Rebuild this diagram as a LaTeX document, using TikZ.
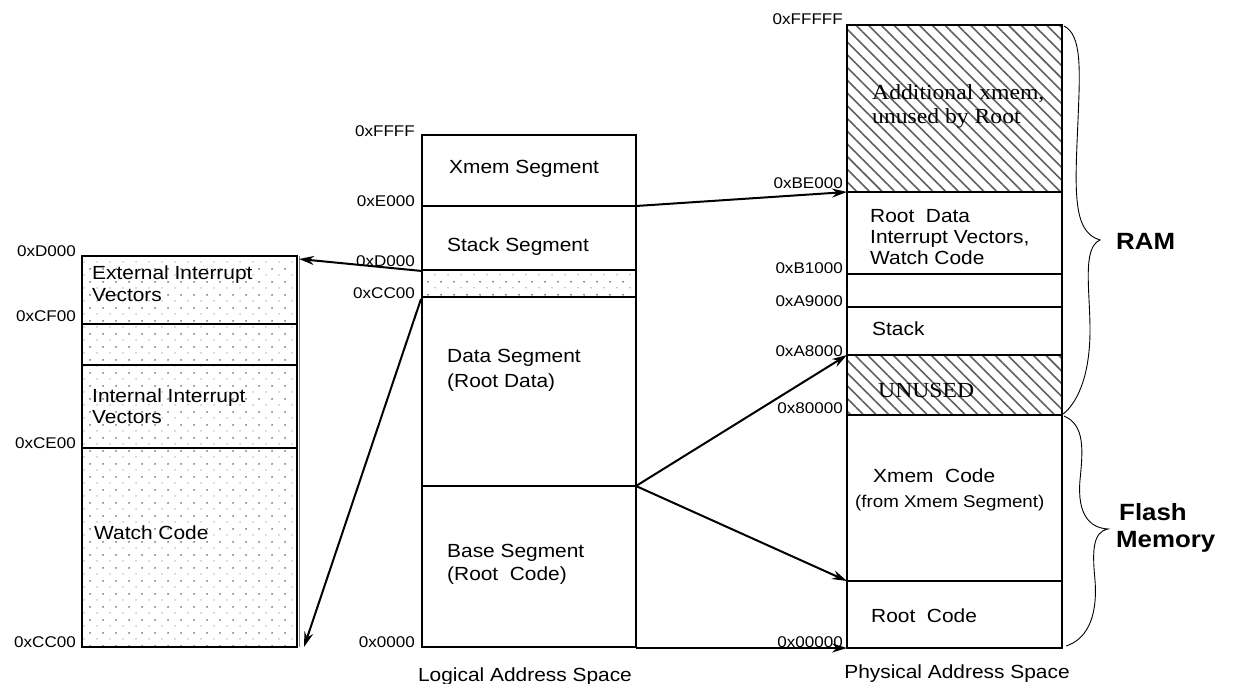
\documentclass[tikz,border=0pt]{standalone}
\usepackage{fontspec}
\setmainfont{Liberation Sans}[FakeStretch=1.1]
\newfontfamily\timesface{Liberation Serif}[FakeStretch=1.1]
\usetikzlibrary{arrows.meta,patterns.meta}

\begin{document}
\begin{tikzpicture}[x=1pt, y=-1pt,
  box/.style={draw, line width=2pt},
  divider/.style={line width=1.6pt},
  dotfill/.style={pattern={Dots[distance=13pt, radius=1pt]}, pattern color=gray!80!black},
  dotfillb/.style={pattern={Dots[distance=13pt, radius=0.7pt, xshift=6.5pt, yshift=6.5pt]}, pattern color=gray},
  hatchfill/.style={pattern={Lines[angle=-45, distance=9pt, line width=1.6pt]}, pattern color=gray!75!black},
  seg/.style={font=\fontsize{19}{21}\selectfont, anchor=base west, inner sep=0pt},
  small/.style={font=\fontsize{17}{19}\selectfont, anchor=base west, inner sep=0pt},
  addr/.style={font=\fontsize{15.5}{17}\selectfont, anchor=base east, inner sep=0pt},
  serif/.style={font=\timesface\fontsize{21.5}{23}\selectfont, anchor=base west, inner sep=0pt},
  big/.style={font=\bfseries\fontsize{23.5}{25}\selectfont, anchor=base west, inner sep=0pt},
  map/.style={-{Stealth[length=15pt, width=9pt]}, line width=2pt},
  brc/.style={line width=0.9pt}]
  \useasboundingbox (0,0) rectangle (1236,684);

  % interrupt / watch code area (0xCC00-0xD000)
  \path[dotfill] (82,256) rectangle (297,647);
  \path[dotfillb] (82,256) rectangle (297,647);
  \draw[line width=1.4pt, gray] (299.5,256) -- (299.5,647);
  \draw[box] (82,256) rectangle (297,647);
  \foreach \y in {324,365,448}
    \draw[divider] (82,\y) -- (297,\y);
  \coordinate (ev-top) at (299,259);
  \coordinate (ev-bot) at (304,647);

  % logical address space
  \path[dotfill] (422,270) rectangle (636,297);
  \path[dotfillb] (422,270) rectangle (636,297);
  \draw[box] (422,135) rectangle (636,647);
  \foreach \y in {206,270,297,486}
    \draw[divider] (422,\y) -- (636,\y);
  \coordinate (lg-e000) at (636,206);
  \coordinate (lg-d000) at (422,271);
  \coordinate (lg-cc00) at (421,299);
  \coordinate (lg-base) at (636,486);
  \coordinate (lg-zero) at (636,648);

  % physical address space
  \path[hatchfill] (847,25) rectangle (1062,192);
  \path[hatchfill] (847,355) rectangle (1062,415);
  \draw[box] (847,25) rectangle (1062,648);
  \foreach \y in {192,274,307,355,415,581}
    \draw[divider] (847,\y) -- (1062,\y);
  \coordinate (ph-be000) at (847,192);
  \coordinate (ph-a8000) at (847,355);
  \coordinate (ph-xcode) at (847,581);
  \coordinate (ph-zero) at (847,648);

  % address labels
  \foreach \y/\t in {257/0xD000, 322/0xCF00, 448/0xCE00, 647/0xCC00}
    \node[addr] (la-\y) at (76,\y) {\t};
  \foreach \y/\t in {137/0xFFFF, 207/0xE000, 267/0xD000, 299/0xCC00, 647/0x0000}
    \node[addr] (ma-\y) at (415,\y) {\t};
  \foreach \y/\t in {25/0xFFFFF, 189/0xBE000, 274/0xB1000, 307/0xA9000, 356/0xA8000, 413/0x80000, 647/0x00000}
    \node[addr] (ra-\y) at (843,\y) {\t};

  % segment texts
  \node[seg] (ext1) at (92,280) {External Interrupt};
  \node[seg] (ext2) at (92,302) {Vectors};
  \node[seg] (int1) at (92,402) {Internal Interrupt};
  \node[seg] (int2) at (92,423) {Vectors};
  \node[seg] (watch) at (94,539) {Watch Code};

  \node[seg] (xseg) at (449,174) {Xmem Segment};
  \node[seg] (sseg) at (447,252) {Stack Segment};
  \node[seg] (dseg1) at (447,362) {Data Segment};
  \node[seg] (dseg2) at (447,387) {(Root Data)};
  \node[seg] (bseg1) at (447,557) {Base Segment};
  \node[seg] (bseg2) at (447,580) {(Root\ \ Code)};

  \node[serif] (add1) at (872,100) {Additional xmem,};
  \node[serif] (add2) at (872,124) {unused by Root};
  \node[seg] (rd1) at (870,223) {Root\ \ Data};
  \node[seg] (rd2) at (870,244) {Interrupt Vectors,};
  \node[seg] (rd3) at (870,265) {Watch Code};
  \node[seg] (stk) at (872,335) {Stack};
  \node[serif] (unused) at (878,397) {UNUSED};
  \node[seg] (xc1) at (873,482) {Xmem\ \ Code};
  \node[small] (xc2) at (855,507) {(from Xmem Segment)};
  \node[seg] (rc) at (871,622) {Root\ \ Code};

  \node[big] (ram) at (1116,250) {RAM};
  \node[big] (flash1) at (1119,520) {Flash};
  \node[big] (flash2) at (1116,547) {Memory};

  \node[seg, anchor=base] (logical) at (525,681) {Logical Address Space};
  \node[seg, anchor=base] (physical) at (957,678) {Physical Address Space};

  % braces
  \coordinate (ram-top) at (1064,26);
  \coordinate (ram-tip) at (1100,240);
  \coordinate (ram-bot) at (1063,414);
  \draw[brc] (ram-top) .. controls (1082,35) and (1080,70) .. (1078,120)
    .. controls (1075,190) and (1072,232) .. (ram-tip)
    .. controls (1082,248) and (1090,290) .. (1090,330)
    .. controls (1090,380) and (1075,405) .. (ram-bot);
  \coordinate (fl-top) at (1064,416);
  \coordinate (fl-tip) at (1108,529);
  \coordinate (fl-bot) at (1066,646);
  \draw[brc] (fl-top) .. controls (1085,425) and (1083,450) .. (1080,480)
    .. controls (1077,515) and (1090,528) .. (fl-tip)
    .. controls (1093,532) and (1092,550) .. (1095,580)
    .. controls (1098,620) and (1085,640) .. (fl-bot);

  % mappings
  \draw[map] (lg-e000) -- (ph-be000);
  \draw[map] (lg-d000) -- (ev-top);
  \draw[map] (lg-cc00) -- (ev-bot);
  \draw[map] (lg-base) -- (ph-a8000);
  \draw[map] (lg-base) -- (ph-xcode);
  \draw[map] (lg-zero) -- (ph-zero);
\end{tikzpicture}
\end{document}
